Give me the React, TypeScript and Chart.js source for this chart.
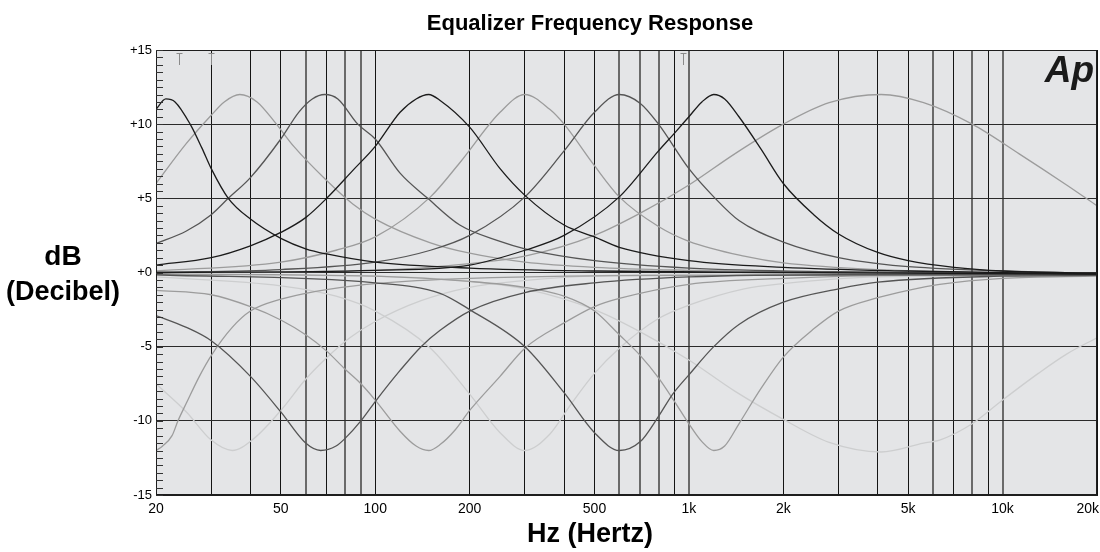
import React, { useEffect, useRef } from 'react';
import { Chart, registerables } from 'chart.js';

Chart.register(...registerables);

const FONT = "'Liberation Sans', Arial, Helvetica, sans-serif";

const chartTitle = 'Equalizer Frequency Response';
const xAxisTitle = 'Hz (Hertz)';
const yAxisTitleLines = ['dB', '(Decibel)'];
const logoText = 'Ap';

const xGridValues = [20, 30, 40, 50, 60, 70, 80, 90, 100, 200, 300, 400, 500, 600, 700, 800, 900, 1000, 2000, 3000, 4000, 5000, 6000, 7000, 8000, 9000, 10000, 20000];
const xGrayGridValues = [60, 80, 90, 600, 700, 800, 1000, 6000, 8000, 10000];
const xTickValues = [20, 50, 100, 200, 500, 1000, 2000, 5000, 10000, 20000];
const xTickLabels = ['20', '50', '100', '200', '500', '1k', '2k', '5k', '10k', '20k'];
const yTickValues = [-15, -10, -5, 0, 5, 10, 15];
const yTickLabels = ['-15', '-10', '-5', '+0', '+5', '+10', '+15'];
const cursorMarkersHz = [23.7, 30, 960];

// [Hz, dB]
const boost21: [number, number][] = [[20, 11.0], [21.5, 11.7], [23, 11.5], [25.7, 10.0], [28, 8.4], [30, 7.0], [34, 5.0], [40, 3.6], [50, 2.3], [60, 1.6], [70, 1.25], [100, 0.7], [200, 0.3], [500, 0.1], [2000, 0.0], [20000, -0.1]];
const boost37: [number, number][] = [[20, 6.0], [25, 8.7], [30, 10.6], [33, 11.5], [37, 12.0], [42, 11.5], [48, 10.1], [55, 8.5], [70, 6.2], [85, 4.6], [100, 3.6], [150, 2.0], [200, 1.3], [300, 0.7], [500, 0.35], [1000, 0.15], [3000, 0.0], [20000, -0.1]];
const boost70: [number, number][] = [[20, 1.95], [25, 2.8], [30, 3.9], [34, 5.0], [40, 6.4], [50, 9.0], [57, 10.8], [63, 11.7], [69, 12.0], [76, 11.7], [88, 10.0], [100, 9.0], [120, 6.7], [147, 5.0], [186, 3.2], [250, 2.1], [300, 1.6], [500, 0.8], [1000, 0.3], [3000, 0.05], [20000, -0.1]];
const boost150: [number, number][] = [[20, 0.5], [30, 1.0], [40, 1.8], [50, 2.7], [60, 3.7], [70, 5.0], [85, 6.9], [100, 8.5], [120, 10.8], [135, 11.7], [148, 12.0], [161, 11.6], [200, 9.8], [250, 7.0], [300, 5.2], [400, 3.2], [500, 2.4], [600, 1.7], [1000, 0.8], [2000, 0.35], [5000, 0.1], [20000, -0.1]];
const boost300: [number, number][] = [[20, 0.1], [50, 0.7], [75, 1.5], [100, 2.4], [150, 5.1], [186, 7.4], [250, 10.8], [300, 12.0], [360, 11.0], [400, 10.0], [500, 7.2], [600, 5.1], [800, 3.1], [1000, 2.1], [1500, 1.1], [2000, 0.65], [4000, 0.2], [20000, -0.1]];
const boost600: [number, number][] = [[20, 0.0], [50, 0.2], [100, 0.7], [150, 1.5], [200, 2.5], [300, 5.1], [400, 8.2], [500, 10.8], [600, 12.0], [700, 11.4], [800, 10.0], [1000, 7.0], [1200, 5.1], [1444, 3.5], [2000, 2.05], [3000, 1.0], [4000, 0.6], [5000, 0.4], [10000, 0.1], [20000, -0.05]];
const boost1200: [number, number][] = [[20, 0.0], [100, 0.15], [200, 0.5], [300, 1.5], [400, 2.5], [600, 5.1], [800, 8.2], [900, 9.4], [1000, 10.5], [1100, 11.5], [1200, 12.0], [1300, 11.7], [1444, 10.5], [1700, 8.3], [2000, 6.0], [2500, 3.9], [3000, 2.6], [4000, 1.35], [5000, 0.8], [7000, 0.35], [10000, 0.1], [20000, -0.05]];
const boost4k: [number, number][] = [[20, 0.0], [100, 0.15], [200, 0.6], [300, 1.1], [500, 2.5], [700, 4.0], [1000, 5.9], [1400, 8.0], [2000, 10.0], [2800, 11.45], [4100, 12.0], [5600, 11.45], [8000, 10.0], [11300, 8.0], [16000, 5.9], [20000, 4.5]];

const cut20: [number, number][] = [[20, -12.0], [21, -11.7], [22.5, -11.0], [23.5, -10.0], [25, -8.8], [27.5, -7.0], [30, -5.6], [35, -3.7], [40, -2.6], [50, -1.8], [60, -1.4], [70, -1.15], [100, -0.75], [200, -0.4], [1000, -0.2], [20000, -0.2]];
const cut35: [number, number][] = [[20, -7.5], [25, -9.4], [30, -11.3], [35, -12.0], [41, -11.2], [50, -9.3], [60, -7.2], [70, -5.75], [83, -4.4], [100, -3.3], [140, -1.9], [200, -1.0], [280, -0.6], [560, -0.2], [2000, -0.1], [20000, -0.15]];
const cut67: [number, number][] = [[20, -2.9], [25, -3.7], [30, -4.6], [40, -7.0], [50, -9.4], [60, -11.5], [67, -12.0], [75, -11.7], [80, -11.2], [90, -10.0], [100, -8.7], [120, -6.6], [140, -5.0], [161, -3.9], [200, -2.6], [300, -1.35], [500, -0.7], [1000, -0.3], [3000, -0.15], [20000, -0.15]];
const cut150: [number, number][] = [[20, -1.2], [30, -1.5], [40, -2.3], [50, -3.2], [60, -4.2], [70, -5.3], [80, -6.5], [90, -7.5], [100, -8.6], [120, -10.7], [135, -11.7], [148, -12.0], [161, -11.6], [180, -10.6], [200, -9.3], [250, -7.0], [300, -5.1], [400, -3.4], [500, -2.3], [600, -1.75], [1000, -0.8], [2000, -0.4], [5000, -0.2], [20000, -0.2]];
const cut300: [number, number][] = [[20, -0.3], [50, -0.9], [75, -1.6], [100, -2.6], [150, -5.1], [200, -8.2], [250, -10.8], [300, -12.0], [360, -10.9], [420, -8.9], [500, -6.8], [600, -5.1], [800, -3.1], [1000, -2.2], [1500, -1.1], [2000, -0.75], [4000, -0.3], [20000, -0.2]];
const cut600: [number, number][] = [[20, -0.15], [100, -0.7], [161, -1.4], [200, -2.5], [300, -5.0], [400, -8.1], [500, -10.8], [600, -12.0], [700, -11.4], [800, -9.7], [888, -8.2], [1000, -6.9], [1200, -5.0], [1444, -3.5], [2000, -2.0], [3000, -1.1], [4000, -0.65], [10000, -0.25], [20000, -0.2]];
const cut1200: [number, number][] = [[20, -0.1], [100, -0.25], [200, -0.6], [300, -1.0], [400, -1.6], [500, -2.6], [600, -4.2], [700, -5.6], [800, -7.1], [900, -8.7], [1000, -10.2], [1100, -11.4], [1200, -12.0], [1300, -11.7], [1444, -10.2], [1700, -7.8], [2000, -5.7], [2500, -3.8], [3000, -2.6], [4000, -1.7], [5000, -1.2], [6300, -0.8], [10000, -0.4], [20000, -0.25]];
const cut4k: [number, number][] = [[20, -0.15], [100, -0.25], [200, -0.6], [300, -1.1], [500, -2.5], [700, -4.0], [1000, -5.9], [1400, -8.0], [2000, -9.9], [2800, -11.45], [4100, -12.1], [5600, -11.5], [6300, -11.3], [8000, -10.2], [10000, -8.6], [13000, -6.8], [16000, -5.5], [20000, -4.4]];

const BLACK = '#1b1b1b';
const DARK = '#555555';
const LIGHT = '#9c9c9c';
const FAINT = '#cdcecf';

// first = drawn on top
const curves: { data: [number, number][]; color: string }[] = [
  { data: boost21, color: BLACK },
  { data: boost150, color: BLACK },
  { data: boost1200, color: BLACK },
  { data: boost70, color: DARK },
  { data: boost600, color: DARK },
  { data: cut67, color: DARK },
  { data: cut600, color: DARK },
  { data: boost37, color: LIGHT },
  { data: boost300, color: LIGHT },
  { data: boost4k, color: LIGHT },
  { data: cut20, color: LIGHT },
  { data: cut150, color: LIGHT },
  { data: cut1200, color: LIGHT },
  { data: cut35, color: FAINT },
  { data: cut300, color: FAINT },
  { data: cut4k, color: FAINT },
];

const decorPlugin = {
  id: 'decor',
  beforeDraw(chart: any) {
    const { ctx, chartArea: a } = chart;
    ctx.save();
    ctx.fillStyle = '#ffffff';
    ctx.fillRect(0, 0, chart.width, chart.height);
    ctx.fillStyle = '#e4e5e7';
    ctx.fillRect(a.left, a.top, a.right - a.left, a.bottom - a.top);
    ctx.restore();
  },
  afterDraw(chart: any) {
    const { ctx, chartArea: a } = chart;
    const xs = chart.scales.x;
    const ys = chart.scales.y;
    ctx.save();
    // frame
    ctx.strokeStyle = '#1e1e1e';
    ctx.lineWidth = 1;
    ctx.strokeRect(Math.round(a.left) + 0.5, Math.round(a.top) + 0.5, Math.round(a.right - a.left) - 1, Math.round(a.bottom - a.top) - 1);
    // minor ticks on left edge
    ctx.strokeStyle = '#333333';
    ctx.beginPath();
    for (let v = -15; v <= 15; v += 0.5) {
      const y = Math.round(ys.getPixelForValue(v)) + 0.5;
      ctx.moveTo(a.left, y);
      ctx.lineTo(a.left + 7, y);
    }
    ctx.stroke();
    // cursor markers
    ctx.strokeStyle = '#8a8a8a';
    ctx.beginPath();
    cursorMarkersHz.forEach((hz) => {
      const x = Math.round(xs.getPixelForValue(hz)) + 0.5;
      ctx.moveTo(x - 3, a.top + 3.5);
      ctx.lineTo(x + 3, a.top + 3.5);
      ctx.moveTo(x, a.top + 4);
      ctx.lineTo(x, a.top + 15);
    });
    ctx.stroke();
    // x tick labels
    ctx.fillStyle = '#000';
    ctx.font = `14px ${FONT}`;
    ctx.textBaseline = 'top';
    xTickValues.forEach((v, i) => {
      const x = xs.getPixelForValue(v);
      const w = ctx.measureText(xTickLabels[i]).width;
      let left = x - w / 2;
      if (left + w > chart.width - 1) left = chart.width - 1 - w;
      ctx.textAlign = 'left';
      ctx.fillText(xTickLabels[i], left, a.bottom + 7);
    });
    // titles
    ctx.textAlign = 'center';
    ctx.textBaseline = 'alphabetic';
    ctx.font = `bold 22px ${FONT}`;
    ctx.fillText(chartTitle, 590, 30);
    ctx.font = `bold 27px ${FONT}`;
    ctx.fillText(xAxisTitle, 590, 542);
    ctx.font = `bold 28px ${FONT}`;
    ctx.fillText(yAxisTitleLines[0], 63, 265);
    ctx.font = `bold 27px ${FONT}`;
    ctx.fillText(yAxisTitleLines[1], 63, 300);
    // logo
    ctx.font = `italic bold 37px ${FONT}`;
    ctx.textAlign = 'right';
    ctx.fillStyle = '#1a1a1a';
    ctx.fillText(logoText, 1094, 82);
    ctx.restore();
  },
};

export default function App() {
  const canvasRef = useRef<HTMLCanvasElement | null>(null);

  useEffect(() => {
    const canvas = canvasRef.current;
    if (!canvas) return;
    const chart = new Chart(canvas, {
      type: 'line',
      data: {
        datasets: curves.map((c) => ({
          data: c.data.map(([x, y]) => ({ x, y })),
          borderColor: c.color,
          backgroundColor: c.color,
          borderWidth: 1.3,
          pointRadius: 0,
          fill: false,
          cubicInterpolationMode: 'monotone' as const,
        })),
      },
      options: {
        responsive: false,
        animation: false,
        devicePixelRatio: 1,
        layout: { padding: { left: 0, right: 3, top: 50, bottom: 0 } },
        plugins: {
          legend: { display: false },
          tooltip: { enabled: false },
          title: { display: false },
        },
        scales: {
          x: {
            type: 'logarithmic',
            min: 20,
            max: 20000,
            afterBuildTicks: (s: any) => {
              s.ticks = xGridValues.map((v) => ({ value: v }));
            },
            afterFit: (s: any) => {
              s.height = 57;
            },
            ticks: { display: false, autoSkip: false },
            grid: {
              color: (ctx: any) => (xGrayGridValues.includes(ctx.tick?.value) ? '#6a6a6a' : '#141414'),
              lineWidth: (ctx: any) => (xGrayGridValues.includes(ctx.tick?.value) ? 2 : 1),
              drawTicks: false,
            },
            border: { display: true, color: '#1e1e1e' },
          },
          y: {
            type: 'linear',
            min: -15,
            max: 15,
            afterBuildTicks: (s: any) => {
              s.ticks = yTickValues.map((v) => ({ value: v }));
            },
            afterFit: (s: any) => {
              s.width = 156;
            },
            ticks: {
              autoSkip: false,
              callback: (v: any) => {
                const i = yTickValues.indexOf(Number(v));
                return i >= 0 ? yTickLabels[i] : '';
              },
              font: { size: 13, family: FONT },
              color: '#000',
              padding: 4,
            },
            grid: { color: '#2a2a2a', lineWidth: 1, drawTicks: false },
            border: { display: true, color: '#1e1e1e' },
          },
        },
      },
      plugins: [decorPlugin],
    });
    return () => chart.destroy();
  }, []);

  return (
    <div style={{ position: 'absolute', left: 0, top: 0, width: 1100, height: 552, background: '#fff' }}>
      <canvas ref={canvasRef} width={1100} height={552} style={{ display: 'block', width: 1100, height: 552 }} />
    </div>
  );
}
